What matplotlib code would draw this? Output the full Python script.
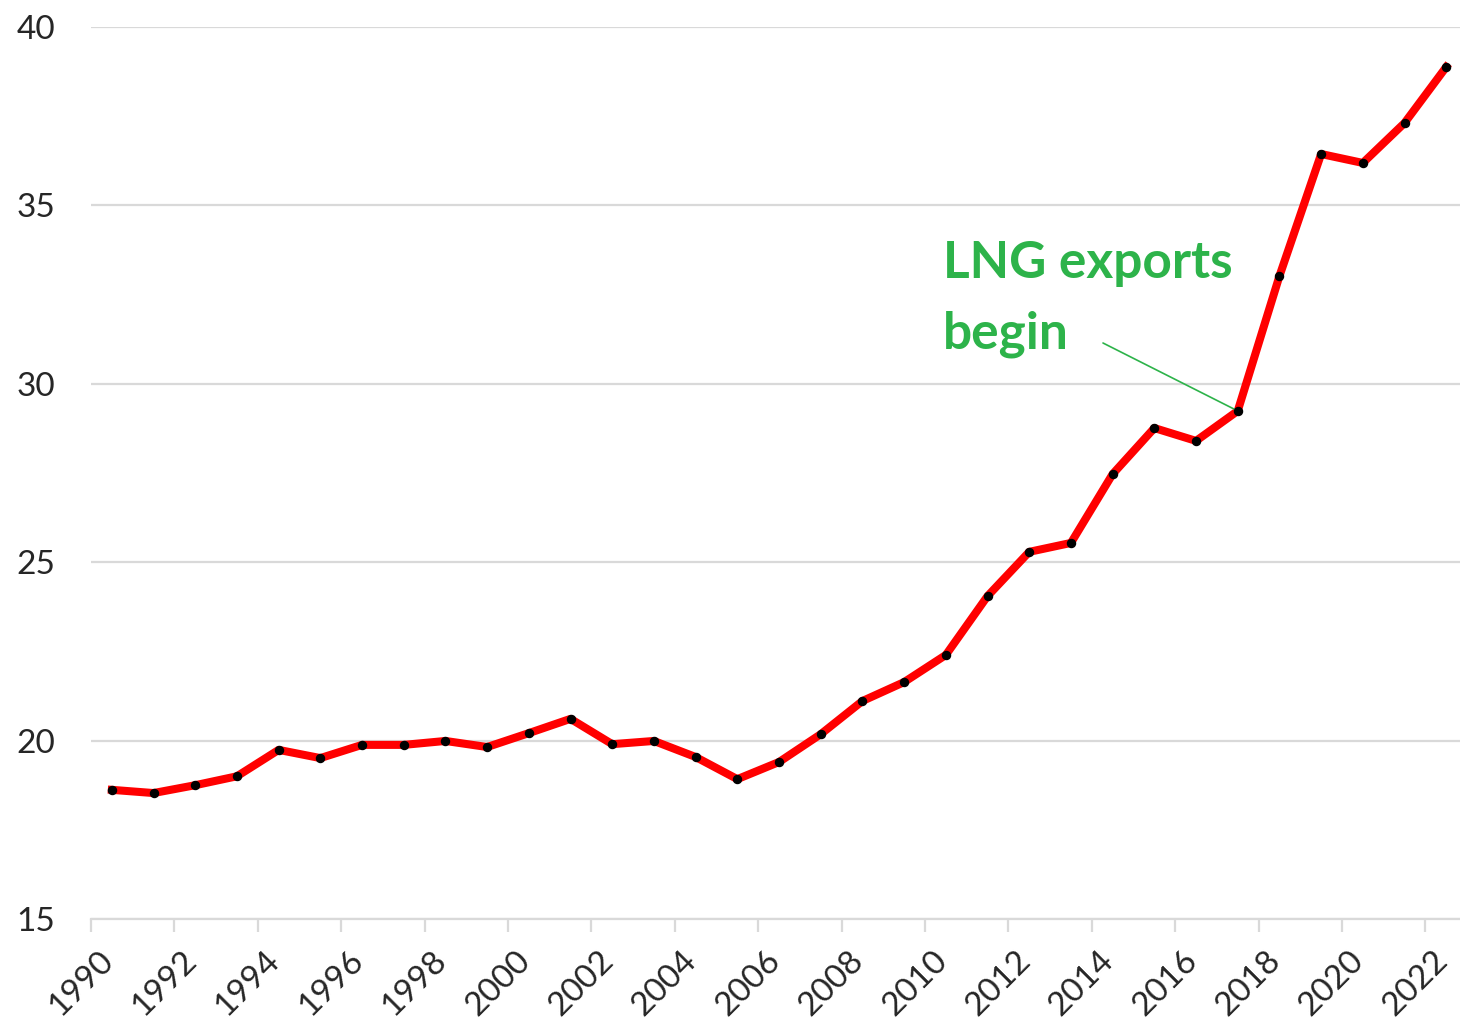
import matplotlib
matplotlib.use("Agg")
import matplotlib.pyplot as plt
import matplotlib.transforms as mtransforms
import numpy as np

# --- data ---
years = list(range(1990, 2023))
values = [18.62, 18.53, 18.75, 19.00, 19.74, 19.51, 19.88, 19.88, 19.99, 19.82,
          20.21, 20.61, 19.90, 19.99, 19.54, 18.92, 19.40, 20.18, 21.11, 21.64,
          22.40, 24.05, 25.29, 25.54, 27.47, 28.76, 28.40, 29.24, 33.02, 36.44,
          36.19, 37.31, 38.88]
y_ticks = [15, 20, 25, 30, 35, 40]
label_years = years[::2]
note_text = "LNG exports\nbegin"
note_year = 2017

plt.rcParams['font.family'] = ['Lato', 'DejaVu Sans']

fig = plt.figure(figsize=(14.6, 10.26), dpi=100)
ax = fig.add_axes([91 / 1460, 1 - 919 / 1026, (1460 - 91) / 1460, (919 - 27) / 1026])

x = np.arange(len(years))
ax.plot(x, values, color='#ff0000', linewidth=5.8, solid_joinstyle='round', zorder=3)
ax.plot(x, values, linestyle='none', marker='o', markersize=5.8, color='black', zorder=4)

ax.set_ylim(15, 40)
ax.set_xlim(-0.5, 32.33)

# gridlines
ax.set_yticks(y_ticks)
ax.yaxis.grid(True, color='#d9d9d9', linewidth=1.6)
ax.set_axisbelow(True)
ax.tick_params(axis='y', length=0, pad=26, labelsize=24, labelcolor='#262626')

# category axis: tick marks between categories, labels at every second category
ax.set_xticks(np.arange(-0.5, len(years), 2))
ax.set_xticklabels([])
ax.tick_params(axis='x', which='major', length=9.5, width=1.6, color='#d9d9d9')
ax.set_xticks(x[::2], minor=True)
ax.set_xticklabels([str(y) for y in label_years], minor=True, rotation=45, ha='right',
                   fontsize=24, color='#262626')
ax.tick_params(axis='x', which='minor', length=0, pad=19)
offset = mtransforms.ScaledTranslation(7 / 100, 0, fig.dpi_scale_trans)
for lbl in ax.get_xticklabels(minor=True):
    lbl.set_transform(lbl.get_transform() + offset)

for side in ['top', 'right', 'left']:
    ax.spines[side].set_visible(False)
ax.spines['bottom'].set_color('#d9d9d9')
ax.spines['bottom'].set_linewidth(1.6)

# annotation
i = years.index(note_year)
ax.text(943 / 1460, 1 - 348 / 1026, note_text, transform=fig.transFigure,
        fontsize=37, fontweight='bold', color='#2db34a', linespacing=1.6,
        ha='left', va='baseline')
ax.annotate('', xy=(x[i], values[i]), xycoords='data',
            xytext=(1103 / 1460, 1 - 343 / 1026), textcoords='figure fraction',
            arrowprops=dict(arrowstyle='-', color='#2db34a', linewidth=1.2,
                            shrinkA=0, shrinkB=0))

fig.savefig('out.png', dpi=100)
